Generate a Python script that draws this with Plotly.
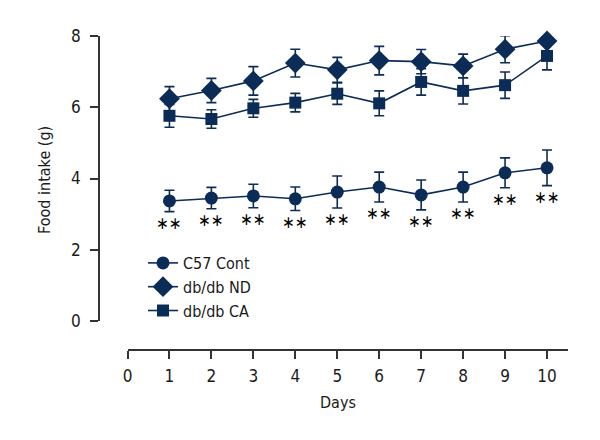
import plotly.graph_objects as go

days = [1, 2, 3, 4, 5, 6, 7, 8, 9, 10]
c57_mean = [3.37, 3.45, 3.51, 3.43, 3.62, 3.76, 3.54, 3.76, 4.16, 4.30]
c57_err = [0.30, 0.30, 0.33, 0.33, 0.45, 0.42, 0.42, 0.42, 0.42, 0.50]
nd_mean = [6.24, 6.47, 6.74, 7.24, 7.05, 7.31, 7.28, 7.16, 7.63, 7.86]
nd_err = [0.34, 0.34, 0.40, 0.39, 0.35, 0.40, 0.34, 0.33, 0.38, 0.10]
ca_mean = [5.76, 5.67, 5.97, 6.13, 6.38, 6.11, 6.71, 6.46, 6.62, 7.44]
ca_err = [0.32, 0.26, 0.25, 0.26, 0.30, 0.35, 0.37, 0.37, 0.37, 0.39]
sig_labels = ["\u2217\u2217"] * 10
x_ticks = [0, 1, 2, 3, 4, 5, 6, 7, 8, 9, 10]
y_ticks = [0, 2, 4, 6, 8]

NAVY = "#0c2c58"
AX = "#333333"
TXT = "#1a1a1a"
FONT = "DejaVu Sans Condensed, sans-serif"
W, H = 600, 440
OFF = 8  # page body margin offset

def px(x):
    return (x - OFF) / W

def py(y):
    return 1 - (y - OFF) / H

fig = go.Figure()

series = [
    ("C57 Cont", c57_mean, c57_err, "circle", 13),
    ("db/db ND", nd_mean, nd_err, "diamond", 16),
    ("db/db CA", ca_mean, ca_err, "square", 12),
]
for name, m, e, sym, sz in series:
    fig.add_trace(go.Scatter(
        x=days, y=m, name=name, mode="lines+markers",
        line=dict(color=NAVY, width=1.6),
        marker=dict(symbol=sym, size=sz, color=NAVY),
        error_y=dict(type="data", array=e, visible=True, color=NAVY,
                     thickness=1.6, width=5),
        cliponaxis=False,
    ))

for d, m, e, t in zip(days, c57_mean, c57_err, sig_labels):
    fig.add_annotation(x=d, y=m - e, xref="x", yref="y", text=t,
                       showarrow=False, xanchor="center", yanchor="middle",
                       yshift=-11,
                       font=dict(family="DejaVu Sans Condensed", size=17, color="#000000"))

fig.add_annotation(x=px(338), y=py(402), xref="paper", yref="paper",
                   text="Days", showarrow=False, xanchor="center", yanchor="middle",
                   font=dict(family=FONT, size=16, color=TXT))
fig.add_annotation(x=px(45), y=py(180), xref="paper", yref="paper",
                   text="Food intake (g)", showarrow=False, textangle=-90,
                   xanchor="center", yanchor="middle",
                   font=dict(family=FONT, size=16, color=TXT))

fig.update_layout(
    width=W, height=H,
    margin=dict(l=0, r=0, t=0, b=0),
    paper_bgcolor="white", plot_bgcolor="white",
    font=dict(family=FONT, size=16, color=TXT),
    xaxis=dict(domain=[px(127.5), px(568)], range=[0, 10.5],
               anchor="free", position=py(350),
               tickmode="array", tickvals=x_ticks,
               ticktext=[str(v) for v in x_ticks],
               showline=True, linecolor=AX, linewidth=1.5,
               ticks="outside", ticklen=8, tickwidth=1.5, tickcolor=AX,
               ticklabelstandoff=3,
               showgrid=False, zeroline=False, automargin=False,
               tickfont=dict(family=FONT, size=17, color=TXT)),
    yaxis=dict(domain=[py(321), py(36)], range=[0, 8],
               anchor="free", position=px(99),
               tickmode="array", tickvals=y_ticks,
               ticktext=[str(v) for v in y_ticks],
               showline=True, linecolor=AX, linewidth=1.5,
               ticks="outside", ticklen=8, tickwidth=1.5, tickcolor=AX,
               ticklabelstandoff=6,
               showgrid=False, zeroline=False, automargin=False,
               tickfont=dict(family=FONT, size=17, color=TXT)),
    legend=dict(x=px(143), y=py(246), xanchor="left", yanchor="top",
                bgcolor="rgba(0,0,0,0)", font=dict(family=FONT, size=16, color=TXT),
                tracegroupgap=0),
    showlegend=True,
)

fig.write_html("out.html")
